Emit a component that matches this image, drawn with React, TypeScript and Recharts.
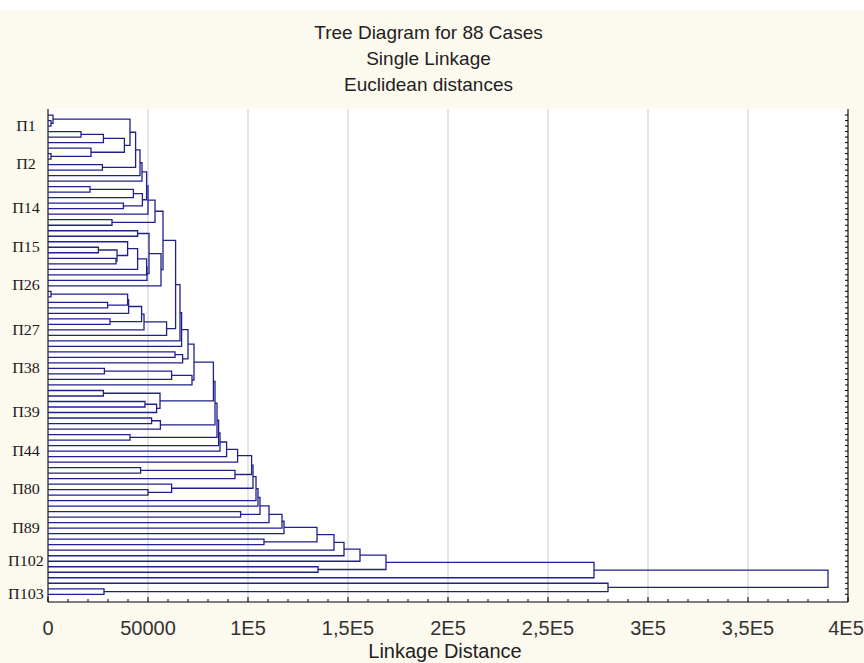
import React from 'react';
import { ScatterChart, Scatter, XAxis, YAxis, CartesianGrid } from 'recharts';

// Case names printed on the vertical axis, and the leaf slot (1 = top) each one sits on
const caseLabels = ['П1', 'П2', 'П14', 'П15', 'П26', 'П27', 'П38', 'П39', 'П44', 'П80', 'П89', 'П102', 'П103'];
const caseLabelSlots = [3, 10, 18, 25, 32, 40, 47, 55, 62, 69, 76, 82, 88];

const leafCount = 88;

// Linkage distance (in thousands) at which leaf k and leaf k+1 first share a cluster.
// With the leaf order fixed, these 87 values define the whole single-linkage tree.
const neighbourLinkage = [
  2.5, 1.5, 41, 16.5, 27.7, 38.2, 21.5, 1.5, 43.8, 27.2,
  46, 47, 49.3, 21, 42.7, 47.2, 37.7, 50, 53.5, 32,
  57.5, 44.8, 50.5, 39.8, 25.2, 34.5, 34, 44.8, 49.3, 49.5,
  56.5, 63.8, 1.5, 39.8, 29.8, 40.3, 46.8, 31, 48, 59.3,
  66, 66.8, 70, 63.5, 67.3, 73, 28.2, 61.8, 72, 82.7,
  27.7, 56, 48.5, 54.3, 83.5, 51.8, 56.2, 84.5, 41, 85.3,
  86, 89.3, 94.8, 101.8, 46.3, 93.5, 102.5, 61.8, 50, 104,
  105, 106, 96.3, 110.5, 117, 118, 134.5, 108, 143, 148,
  156, 169, 135, 273, 390, 280, 28,
];
const linkageUnit = 1000;

// Distance axis
const distanceTicks = [0, 50000, 100000, 150000, 200000, 250000, 300000, 350000, 400000];
const distanceTickText = ['0', '50000', '1E5', '1,5E5', '2E5', '2,5E5', '3E5', '3,5E5', '4E5'];
const minorStep = 10000;

const titleLines = ['Tree Diagram for 88 Cases', 'Single Linkage', 'Euclidean distances'];
const axisTitle = 'Linkage Distance';

const chartWidth = 864;
const chartHeight = 663;
const treeColor = '#20208a';
const gridColor = '#c9c9d8';
const pageColor = '#fcf9ee';
const fontSans = '"Liberation Sans", Arial, sans-serif';
const fontSerif = '"Liberation Serif", "Times New Roman", serif';

type Pt = { x: number; y: number };
type Node = { h: number; y: number };

// Split a run of leaves at its largest neighbour linkage, recursively,
// and collect one bracket (child end -> merge height -> other child end) per merge.
function buildTree(lo: number, hi: number, out: Pt[][]): Node {
  if (lo === hi) return { h: 0, y: lo };
  let split = lo;
  for (let k = lo; k < hi; k++) {
    if (neighbourLinkage[k - 1] > neighbourLinkage[split - 1]) split = k;
  }
  const left = buildTree(lo, split, out);
  const right = buildTree(split + 1, hi, out);
  const h = neighbourLinkage[split - 1] * linkageUnit;
  out.push([
    { x: left.h, y: left.y },
    { x: h, y: left.y },
    { x: h, y: right.y },
    { x: right.h, y: right.y },
  ]);
  return { h, y: (left.y + right.y) / 2 };
}

const brackets: Pt[][] = [];
buildTree(1, leafCount, brackets);

const minorTicks: number[] = [];
for (let v = distanceTicks[0]; v <= distanceTicks[distanceTicks.length - 1]; v += minorStep) minorTicks.push(v);
const leafSlots: number[] = [];
for (let k = 1; k <= leafCount; k++) leafSlots.push(k);

const frame: Pt[] = [
  { x: distanceTicks[0], y: 1 },
  { x: distanceTicks[distanceTicks.length - 1], y: leafCount },
];

const noDot = () => <g />;

const BottomTick = (p: any) => {
  const idx = distanceTicks.indexOf(p.payload.value);
  const major = idx >= 0;
  // keep the last label inside the picture
  const labelX = Math.min(p.x, chartWidth - 18);
  return (
    <g>
      <line x1={p.x} x2={p.x} y1={p.y} y2={p.y - (major ? 5 : 3)} stroke="#000" strokeWidth={1} />
      {major && (
        <text x={labelX} y={p.y + 33} textAnchor="middle" fontFamily={fontSans} fontSize={20} fill="#333">
          {distanceTickText[idx]}
        </text>
      )}
    </g>
  );
};

const TopTick = (p: any) => {
  const major = distanceTicks.indexOf(p.payload.value) >= 0;
  return <line x1={p.x} x2={p.x} y1={p.y} y2={p.y + (major ? 5 : 3)} stroke="#000" strokeWidth={1} />;
};

const RightTick = (p: any) => <line x1={p.x} x2={p.x - 3} y1={p.y} y2={p.y} stroke="#000" strokeWidth={1} />;

const CaseTick = (p: any) => {
  const idx = caseLabelSlots.indexOf(p.payload.value);
  if (idx < 0) return <g />;
  return (
    <text
      transform={`translate(26 ${p.y}) scale(1.15 1)`}
      textAnchor="middle"
      dominantBaseline="central"
      fontFamily={fontSerif}
      fontSize={14}
      fill="#1a1a1a"
    >
      {caseLabels[idx]}
    </text>
  );
};

export default function App() {
  return (
    <div
      style={{
        position: 'absolute',
        left: 0,
        top: 0,
        width: chartWidth,
        height: chartHeight,
        background: pageColor,
        overflow: 'hidden',
      }}
    >
      <div style={{ position: 'absolute', left: 0, top: 0, width: chartWidth, height: 10, background: '#fff' }} />
      <div
        style={{
          position: 'absolute',
          left: 0,
          top: 20,
          width: 857,
          textAlign: 'center',
          fontFamily: fontSans,
          fontSize: 19,
          lineHeight: '26px',
          color: '#222',
        }}
      >
        {titleLines.map((t) => (
          <div key={t}>{t}</div>
        ))}
      </div>
      <ScatterChart
        width={chartWidth}
        height={chartHeight}
        margin={{ top: 109, right: 0, bottom: 0, left: 0 }}
        style={{ position: 'absolute', left: 0, top: 0 }}
      >
        <CartesianGrid
          xAxisId="b"
          yAxisId="l"
          horizontal={false}
          verticalValues={distanceTicks}
          stroke={gridColor}
          fill="#fff"
        />
        <XAxis
          xAxisId="b"
          orientation="bottom"
          type="number"
          dataKey="x"
          domain={[distanceTicks[0], distanceTicks[distanceTicks.length - 1]]}
          allowDataOverflow
          ticks={minorTicks}
          interval={0}
          height={61}
          tickSize={0}
          tickMargin={0}
          tickLine={false}
          axisLine={{ stroke: '#000' }}
          tick={<BottomTick />}
        />
        <XAxis
          xAxisId="t"
          orientation="top"
          type="number"
          dataKey="x"
          domain={[distanceTicks[0], distanceTicks[distanceTicks.length - 1]]}
          allowDataOverflow
          ticks={minorTicks}
          interval={0}
          height={0}
          tickSize={0}
          tickMargin={0}
          tickLine={false}
          axisLine={{ stroke: '#000' }}
          tick={<TopTick />}
        />
        <YAxis
          yAxisId="l"
          orientation="left"
          type="number"
          dataKey="y"
          domain={[-0.1, 89.4]}
          allowDataOverflow
          reversed
          ticks={caseLabelSlots}
          interval={0}
          width={48}
          tickSize={0}
          tickMargin={0}
          tickLine={false}
          axisLine={{ stroke: '#000' }}
          tick={<CaseTick />}
        />
        <YAxis
          yAxisId="r"
          orientation="right"
          type="number"
          dataKey="y"
          domain={[-0.1, 89.4]}
          allowDataOverflow
          reversed
          ticks={leafSlots}
          interval={0}
          width={16}
          tickSize={0}
          tickMargin={0}
          tickLine={false}
          axisLine={{ stroke: '#000' }}
          tick={<RightTick />}
        />
        <Scatter data={frame} xAxisId="t" yAxisId="r" shape={noDot} isAnimationActive={false} />
        {brackets.map((pts, i) => (
          <Scatter
            key={i}
            data={pts}
            xAxisId="b"
            yAxisId="l"
            fill={treeColor}
            line={{ stroke: treeColor, strokeWidth: 1.3 }}
            lineType="joint"
            shape={noDot}
            isAnimationActive={false}
          />
        ))}
      </ScatterChart>
      <div
        style={{
          position: 'absolute',
          left: 0,
          top: 641,
          width: 890,
          textAlign: 'center',
          fontFamily: fontSans,
          fontSize: 20,
          lineHeight: '20px',
          color: '#222',
        }}
      >
        {axisTitle}
      </div>
    </div>
  );
}
